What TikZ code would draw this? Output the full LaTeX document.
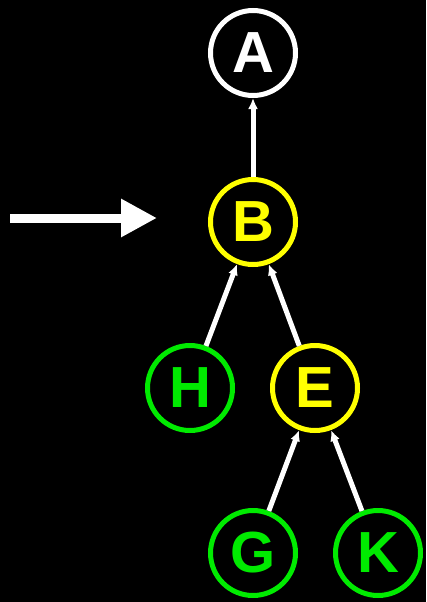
\documentclass[tikz,border=0pt]{standalone}
\usepackage{fontspec}
\setmainfont{Liberation Sans}
\usetikzlibrary{arrows.meta}

\definecolor{treeyellow}{RGB}{255,255,0}
\definecolor{treegreen}{RGB}{0,235,0}

\begin{document}
\begin{tikzpicture}[x=1pt,y=-1pt,
		vertex/.style={circle,draw=#1,text=#1,line width=5pt,minimum size=85pt,inner sep=0pt,
			font=\fontsize{58}{60}\selectfont\bfseries},
		edge/.style={draw=white,line width=5pt,-{Latex[length=11pt,width=10pt]}}]
		\fill[black] (0,0) rectangle (426,602);

		% the tree
		\node[vertex=white] (a) at (253,53) {A};
		\node[vertex=treeyellow] (b) at (253,222) {B};
		\node[vertex=treegreen] (h) at (190,388) {H};
		\node[vertex=treeyellow] (e) at (315,388) {E};
		\node[vertex=treegreen] (g) at (253,553) {G};
		\node[vertex=treegreen] (k) at (378,553) {K};

		% child to parent
		\foreach \child/\parent in {b/a, h/b, e/b, g/e, k/e}
			\draw[edge] (\child) -- (\parent);

		% pointer at the current node
		\coordinate (ptrstart) at (10,218);
		\coordinate (ptrend) at (157,218);
		\draw[white,line width=9pt,-{Triangle[length=36pt,width=36pt]}] (ptrstart) -- (ptrend);
	\end{tikzpicture}
\end{document}
